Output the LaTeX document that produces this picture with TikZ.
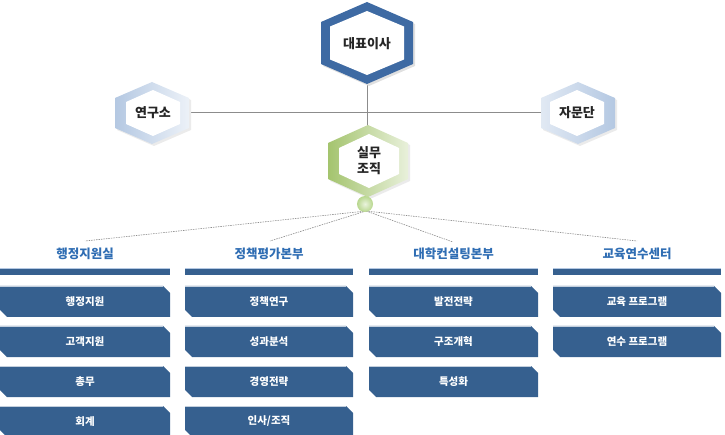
\documentclass[tikz,border=0pt]{standalone}
\usepackage{fontspec}
\newfontfamily\kr{Noto Sans CJK KR}
\usetikzlibrary{shadings}
\definecolor{boxblue}{HTML}{36608F}
\definecolor{ringblue}{HTML}{3E6AA3}
\definecolor{headblue}{HTML}{2F6DB3}
\definecolor{lightring}{HTML}{B4C8E2}
\definecolor{greenring}{HTML}{A4C46E}
\definecolor{ballgreen}{HTML}{B8D78E}
\definecolor{linegray}{HTML}{8C8C8C}
\newcommand{\hexp}[5]{(#1,#2-#4) -- (#1+#3,#2-#5) -- (#1+#3,#2+#5) -- (#1,#2+#4) -- (#1-#3,#2+#5) -- (#1-#3,#2-#5) -- cycle}
\newcommand{\itembox}[5]{% x1 x2 ytop name text
  \fill[boxblue] (#1,#3) -- (#2-7,#3) -- (#2,#3+7) -- (#2,#3+31) -- (#1+7,#3+31) -- (#1,#3+24) -- cycle;
  \draw[white!70!boxblue,line width=0.8pt] (#1,#3+0.4) -- (#2-7,#3+0.4);
  \node[itemtxt] (#4) at ({(#1+#2)/2},#3+15.5) {#5};}
\newcommand{\headbar}[4]{% x1 x2 name text
  \fill[boxblue] (#1,268) rectangle (#2,275);
  \draw[lightring,line width=0.8pt] (#1,268.4) -- (#2,268.4);
  \node[headtxt] (#3) at ({(#1+#2)/2},254) {#4};}
\tikzset{
  itemtxt/.style={font=\kr\bfseries\fontsize{10.5}{12}\selectfont, text=white, inner sep=0pt},
  headtxt/.style={font=\kr\bfseries\fontsize{12.5}{14}\selectfont, text=headblue, inner sep=0pt},
  hextxt/.style={font=\kr\bfseries\fontsize{13}{15}\selectfont, text=black!85, inner sep=0pt, align=center},
  conn/.style={draw=linegray, line width=0.6pt},
  dconn/.style={draw=linegray, line width=0.6pt, dashed, dash pattern=on 1.5pt off 1pt}
}
\begin{document}
\begin{tikzpicture}[x=1pt,y=-1pt]
\useasboundingbox (0,0) rectangle (725,435);
% connectors (behind)
\coordinate (ceoB) at (367,82);
\coordinate (silT) at (367,126);
\coordinate (labR) at (189,112);
\coordinate (advL) at (541,112);
\draw[conn] (ceoB) -- (silT);
\draw[conn] (labR) -- (advL);
% CEO hexagon
\fill[black!12] \hexp{369}{45}{46}{41}{21};
\fill[ringblue] \hexp{367}{43}{46}{41}{21};
\fill[white] \hexp{367}{43}{37}{32}{16.5};
\node[hextxt] (ceo) at (367,44) {대표이사};
% lab hexagon
\fill[black!8] \hexp{154}{115}{37}{31}{15};
\shade[left color=lightring, right color=lightring!25] \hexp{152}{113}{37}{31}{15};
\fill[white] \hexp{153}{113}{27}{23}{11};
\node[hextxt] (lab) at (153,113) {연구소};
% advisory hexagon
\fill[black!8] \hexp{580}{115}{37}{31}{15};
\shade[left color=lightring!40, right color=lightring] \hexp{578}{113}{37}{31}{15};
\fill[white] \hexp{577}{113}{27}{23}{11};
\node[hextxt] (adv) at (577,113) {자문단};
% working hexagon
\fill[black!8] \hexp{370}{163}{40}{36}{18};
\shade[left color=greenring, right color=greenring!25] \hexp{368}{161}{40}{36}{18};
\fill[white] \hexp{369}{161}{30}{27}{13};
\node[hextxt] (sil) at (369,161) {실무\\[1pt]조직};
% hub
\coordinate (hub) at (366,211);
% headings
\headbar{0}{170}{h1}{행정지원실}
\headbar{185}{353}{h2}{정책평가본부}
\headbar{369}{538}{h3}{대학컨설팅본부}
\headbar{553}{721}{h4}{교육연수센터}
\coordinate (d1) at (85,241);
\coordinate (d2) at (270,241);
\coordinate (d3) at (453,242);
\coordinate (d4) at (637,241);
\draw[dconn] (hub) -- (d1);
\draw[dconn] (hub) -- (d2);
\draw[dconn] (hub) -- (d3);
\draw[dconn] (hub) -- (d4);
\shade[inner color=ballgreen!30!white, outer color=ballgreen] (365,204) circle (8);
\node[inner sep=0pt, minimum size=16pt] (ball) at (365,204) {};
% items
\itembox{0}{170}{286}{a1}{행정지원}
\itembox{0}{170}{326}{a2}{고객지원}
\itembox{0}{170}{366}{a3}{총무}
\itembox{0}{170}{406}{a4}{회계}
\itembox{185}{353}{286}{b1}{정책연구}
\itembox{185}{353}{326}{b2}{성과분석}
\itembox{185}{353}{366}{b3}{경영전략}
\itembox{185}{353}{406}{b4}{인사/조직}
\itembox{369}{538}{286}{c1}{발전전략}
\itembox{369}{538}{326}{c2}{구조개혁}
\itembox{369}{538}{366}{c3}{특성화}
\itembox{553}{721}{286}{e1}{교육 프로그램}
\itembox{553}{721}{326}{e2}{연수 프로그램}
\end{tikzpicture}
\end{document}
